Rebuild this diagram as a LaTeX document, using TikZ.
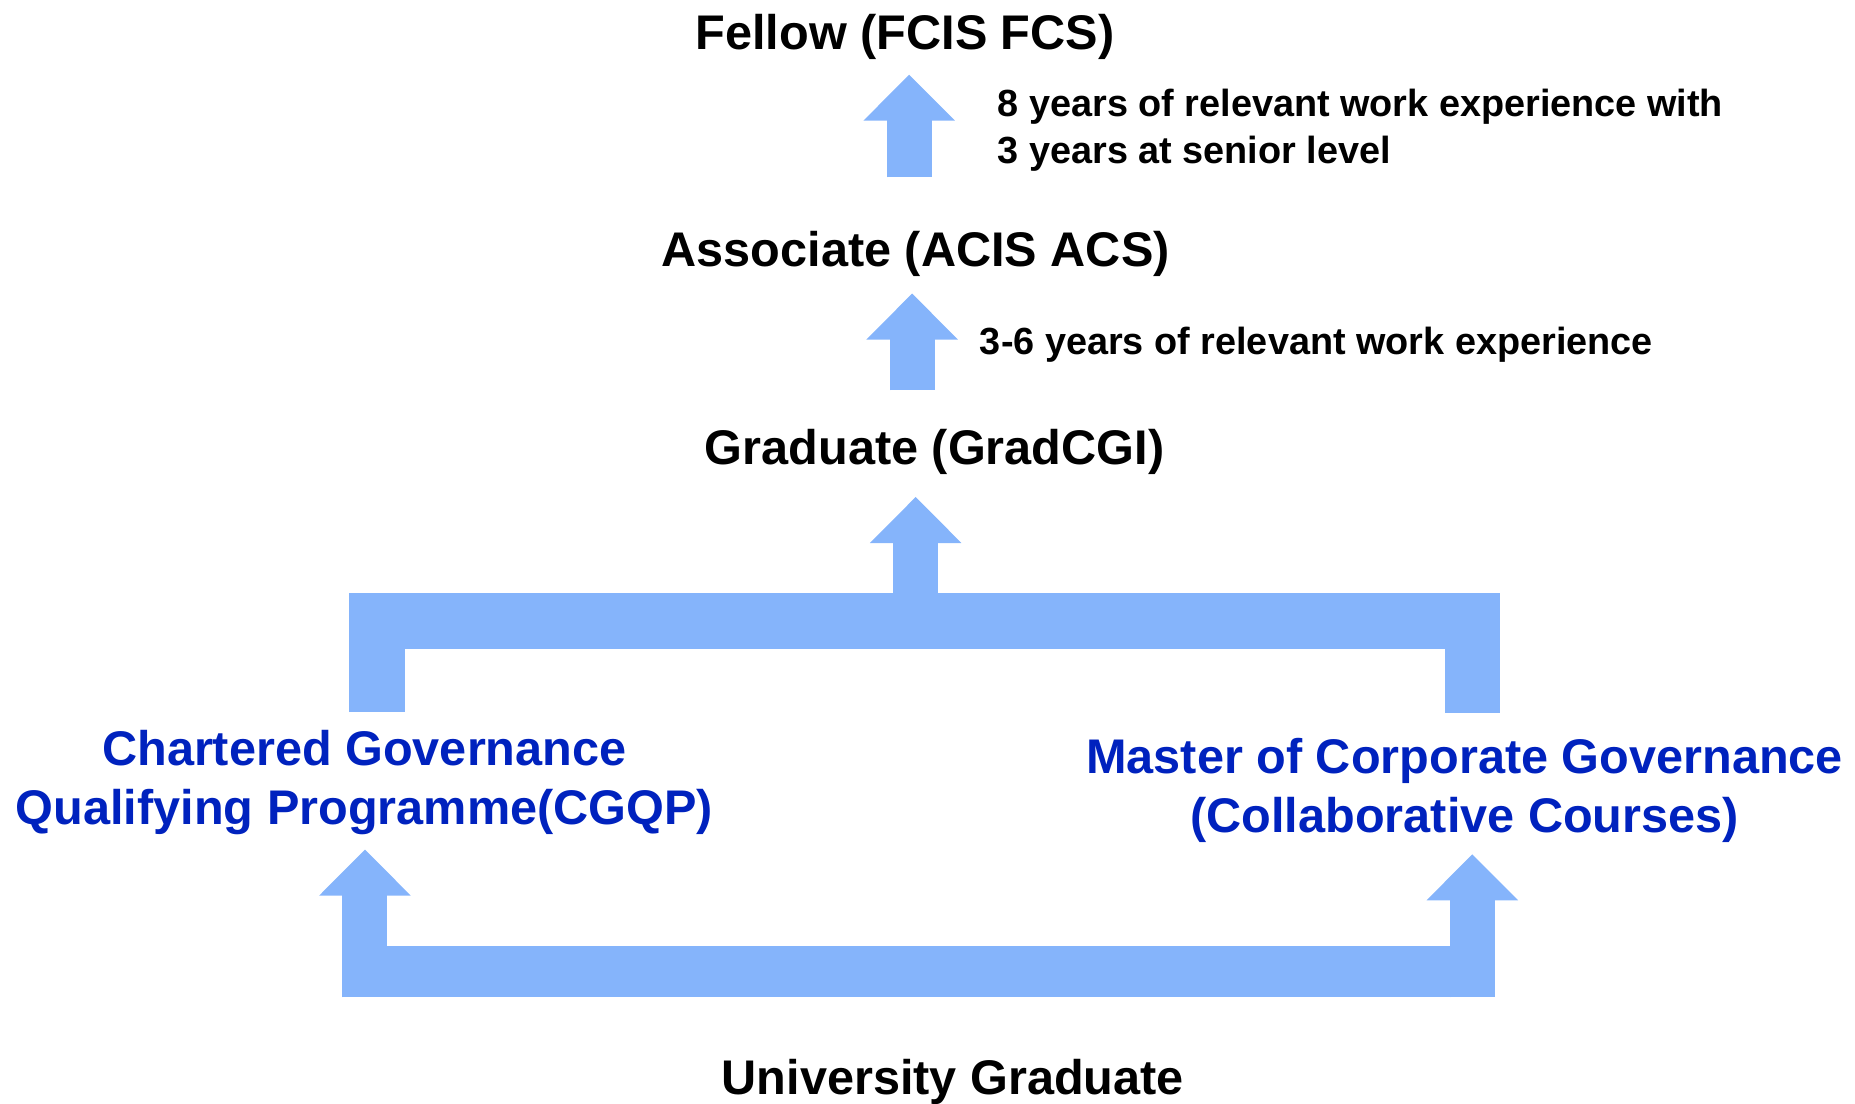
\documentclass[tikz,border=0pt]{standalone}
\usepackage{fontspec}
\setmainfont{Liberation Sans}
\usetikzlibrary{arrows.meta,positioning}
\definecolor{arrowblue}{RGB}{133,180,251}
\definecolor{routeblue}{RGB}{0,34,190}

\begin{document}
\begin{tikzpicture}[x=0.02cm,y=-0.02cm]
  \tikzstyle{levelT}=[font=\bfseries\fontsize{23.4}{28}\selectfont,inner sep=0pt,anchor=base]
  \tikzstyle{routeT}=[font=\bfseries\fontsize{23.4}{28.5}\selectfont,text=routeblue,align=center,inner sep=0pt,anchor=base]
  \tikzstyle{noteT}=[font=\bfseries\fontsize{18.2}{22.8}\selectfont,align=left,inner sep=0pt,anchor=base west]
  \tikzstyle{arrowU}=[draw=arrowblue,line width=0.76cm,-{Triangle[width=1.5cm,length=0.78cm]}]
  \tikzstyle{barU}=[draw=arrowblue,line width=0.94cm,line join=miter]
  \tikzstyle{barD}=[draw=arrowblue,line width=0.86cm]

  \useasboundingbox (0,0) rectangle (1568,933);

  % Levels
  \node[levelT] (fellow) at (765,42)    {Fellow (FCIS FCS)};
  \node[levelT] (assoc)  at (774,225)   {Associate (ACIS ACS)};
  \node[levelT] (grad)   at (790,393)   {Graduate (GradCGI)};
  \node[levelT] (univ)   at (805.5,925) {University Graduate};

  % Routes (base = last line)
  \node[routeT] (cgqp) at (308,697)  {Chartered Governance\\Qualifying Programme(CGQP)};
  \node[routeT] (mcg)  at (1238,704) {Master of Corporate Governance\\(Collaborative Courses)};

  % Notes
  \node[noteT] (note_f) at (843,138.5) {8 years of relevant work experience with\\3 years at senior level};
  \node[noteT] (note_a) at (828,299.5) {3-6 years of relevant work experience};

  % Arrow ends
  \coordinate (a1_foot) at (768.5,150);  \coordinate (a1_tip) at (768.5,63);
  \coordinate (a2_foot) at (771,330);    \coordinate (a2_tip) at (771,248);
  \coordinate (a3_foot) at (774,525);    \coordinate (a3_tip) at (774,420);
  \coordinate (top_l)   at (318.5,602);  \coordinate (top_r)  at (1244.5,603);
  \coordinate (bot_l)   at (290,821.5);  \coordinate (bot_r)  at (1263,821.5);
  \coordinate (b1_foot) at (308.5,843);  \coordinate (b1_tip) at (308.5,718);
  \coordinate (b2_foot) at (1244.5,843); \coordinate (b2_tip) at (1244.5,722);

  \draw[arrowU] (a1_foot) -- (a1_tip);
  \draw[arrowU] (a2_foot) -- (a2_tip);
  \draw[barU] (top_l) -- (top_l |- a3_foot) -- (top_r |- a3_foot) -- (top_r);
  \draw[arrowU] (a3_foot) -- (a3_tip);
  \draw[barD] (bot_l) -- (bot_r);
  \draw[arrowU] (b1_foot) -- (b1_tip);
  \draw[arrowU] (b2_foot) -- (b2_tip);
\end{tikzpicture}
\end{document}
